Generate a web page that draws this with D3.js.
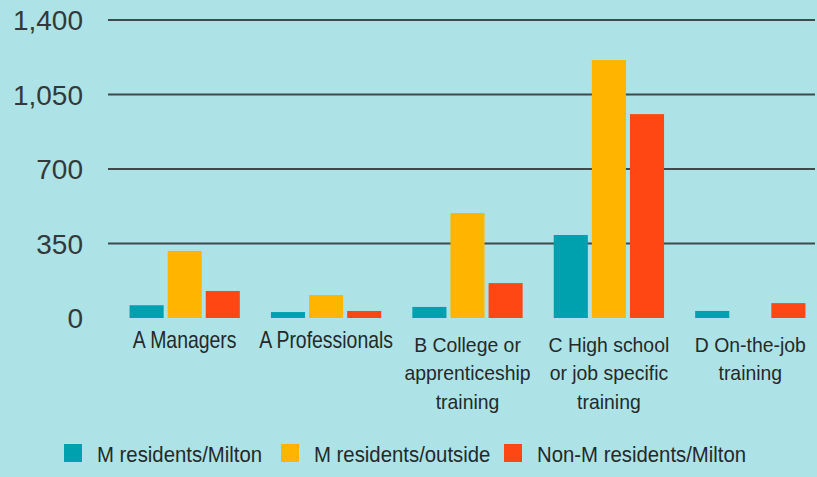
<!DOCTYPE html>
<html>
<head>
<meta charset="utf-8">
<script src="https://cdn.jsdelivr.net/npm/d3@7"></script>
<style>
  html, body { margin: 0; padding: 0; background: #ade3e6; }
  svg { display: block; }
</style>
</head>
<body>
<svg id="chart" width="817" height="477"></svg>
<script>
// data
const categories = [
  ['A Managers'],
  ['A Professionals'],
  ['B College or', 'apprenticeship', 'training'],
  ['C High school', 'or job specific', 'training'],
  ['D On-the-job', 'training']
]
const seriesNames = ['M residents/Milton', 'M residents/outside', 'Non-M residents/Milton']
const miltonMilton = [60, 28, 52, 390, 33]
const miltonOutside = [315, 108, 493, 1212, 0]
const nonMMilton = [127, 33, 164, 958, 70]
const yTicks = [0, 350, 700, 1050, 1400]
const colors = ['#00a1af', '#ffb500', '#ff4713']

const series = [miltonMilton, miltonOutside, nonMMilton]

const svg = d3.select('#chart')
const width = +svg.attr('width')
const font = '"Liberation Sans", Arial, sans-serif'

svg.append('rect')
  .attr('width', width)
  .attr('height', 477)
  .attr('fill', '#ade3e6')

const y = d3.scaleLinear()
  .domain([0, 1400])
  .range([318, 20])

const x0 = d3.scaleBand()
  .domain(d3.range(categories.length))
  .range([114, 821])
  .paddingInner(0.22)
  .paddingOuter(0.11)

const x1 = d3.scaleBand()
  .domain(d3.range(series.length))
  .range([0, x0.bandwidth()])
  .paddingInner(0.105)

// gridlines (none at zero)
svg.append('g')
  .selectAll('line')
  .data(yTicks.filter(d => d > 0))
  .enter().append('line')
  .attr('x1', 108)
  .attr('x2', 815)
  .attr('y1', d => y(d))
  .attr('y2', d => y(d))
  .attr('stroke', '#3f4a4b')
  .attr('stroke-width', 2)

// y labels
svg.append('g')
  .selectAll('text')
  .data(yTicks)
  .enter().append('text')
  .attr('x', 83)
  .attr('y', d => y(d))
  .attr('dy', '0.36em')
  .attr('text-anchor', 'end')
  .style('font-family', font)
  .style('font-size', '28px')
  .style('fill', '#33393a')
  .text(d => d3.format(',')(d))

// bars
const groups = svg.append('g')
  .selectAll('g')
  .data(categories.map((c, i) => i))
  .enter().append('g')
  .attr('transform', i => `translate(${x0(i)},0)`)

groups.selectAll('rect')
  .data(i => series.map((s, k) => ({ k, v: s[i] })))
  .enter().append('rect')
  .filter(d => d.v > 0)
  .attr('x', d => x1(d.k))
  .attr('width', x1.bandwidth())
  .attr('y', d => y(d.v))
  .attr('height', d => y(0) - y(d.v))
  .attr('fill', d => colors[d.k])

// category labels: single-line ones are set bigger and narrower
groups.append('text')
  .attr('text-anchor', 'middle')
  .attr('transform', i => categories[i].length === 1
    ? `translate(${x0.bandwidth() / 2},348) scale(0.845,1)`
    : `translate(${x0.bandwidth() / 2},352) scale(0.97,1)`)
  .style('font-family', font)
  .style('font-size', i => categories[i].length === 1 ? '23px' : '20px')
  .style('fill', '#25292a')
  .selectAll('tspan')
  .data(i => categories[i])
  .enter().append('tspan')
  .attr('x', 0)
  .attr('y', (d, j) => j * 28.5)
  .text(d => d)

// legend
const legendX = [64, 281, 504]
const legend = svg.append('g')
  .selectAll('g')
  .data(seriesNames)
  .enter().append('g')
  .attr('transform', (d, i) => `translate(${legendX[i]},444)`)

legend.append('rect')
  .attr('width', 18)
  .attr('height', 18)
  .attr('fill', (d, i) => colors[i])

legend.append('text')
  .attr('transform', 'translate(33,18) scale(0.885,1)')
  .style('font-family', font)
  .style('font-size', '23px')
  .style('fill', '#25292a')
  .text(d => d)
</script>
</body>
</html>
